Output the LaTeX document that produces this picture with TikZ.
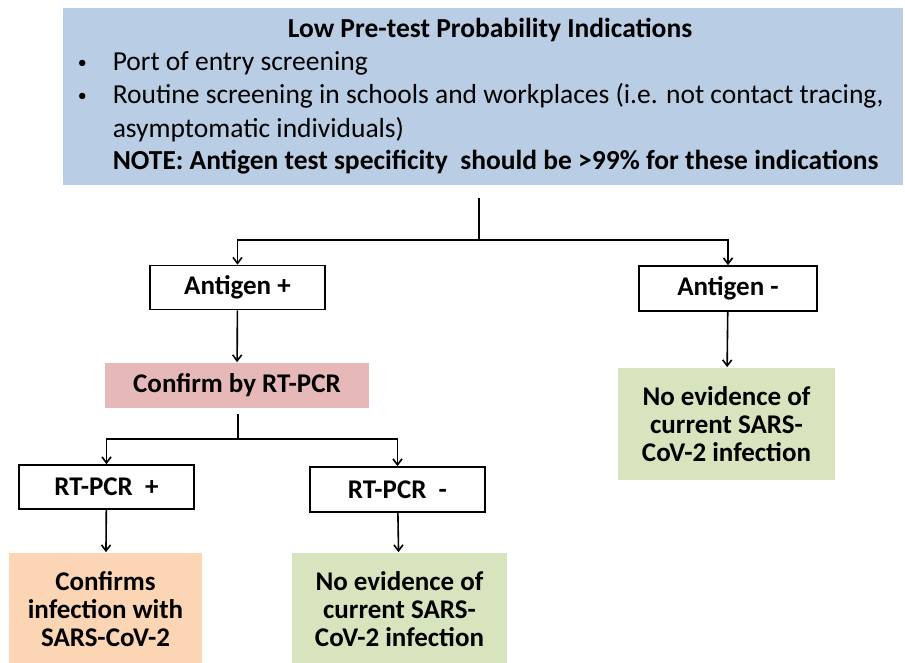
\documentclass[tikz,border=0pt]{standalone}
\usepackage{fontspec}
\setmainfont{Carlito}
\usetikzlibrary{arrows.meta}
\definecolor{topblue}{RGB}{185,205,229}
\definecolor{pcrpink}{RGB}{230,185,184}
\definecolor{pospeach}{RGB}{252,213,181}
\definecolor{neggreen}{RGB}{215,228,189}
\tikzstyle{topblock} = [rectangle, fill=topblue, minimum width=840pt, minimum height=177pt]
\tikzstyle{toptext} = [anchor=base west, inner sep=0pt, font=\fontsize{27.5}{30}\selectfont]
\tikzstyle{block} = [rectangle, draw, line width=1.6pt, text centered, minimum width=175pt, minimum height=44pt, font=\bfseries\fontsize{27}{28}\selectfont]
\tikzstyle{colorblock} = [rectangle, align=center, font=\bfseries\fontsize{27}{28}\selectfont]

\begin{document}
\begin{tikzpicture}[x=1pt, y=-1pt, line width=1.6pt, >={Straight Barb[length=6pt,width=9pt]}]
   \useasboundingbox (0,0) rectangle (905,662);
   % nodes
   \node[topblock] (a) at (483,96.5) {};
   \node[toptext, anchor=base] (a0) at (490,37) {\bfseries Low Pre-test Probability Indications};
   \node[toptext, font=\fontsize{18}{20}\selectfont] (a1) at (77,68) {\textbullet};
   \node[toptext] (a2) at (112,70) {Port of entry screening};
   \node[toptext, font=\fontsize{18}{20}\selectfont] (a3) at (77,101) {\textbullet};
   \node[toptext] (a4) at (112,103) {Routine screening in schools and workplaces (i.e. not contact tracing,};
   \node[toptext] (a5) at (112,137) {asymptomatic individuals)};
   \node[toptext] (a6) at (112,169) {\bfseries NOTE: Antigen test specificity\ \ should be >99\% for these indications};

   \node[block] (b) at (237.5,287.5) {Antigen +};
   \node[block, minimum width=178pt, minimum height=45pt] (c) at (728,288.5) {Antigen -};
   \node[colorblock, fill=pcrpink, minimum width=264pt, minimum height=45pt] (d) at (237,385.5) {Confirm by RT-PCR};
   \node[colorblock, fill=neggreen, minimum width=217pt, minimum height=112pt] (e) at (726.5,424) {No evidence of\\current SARS-\\CoV-2 infection};
   \node[block] (f) at (106.5,487) {RT-PCR\ \ +};
   \node[block, minimum height=45pt] (g) at (397.5,489.5) {RT-PCR\ \ -};
   \node[colorblock, fill=pospeach, minimum width=193pt, minimum height=112pt] (h) at (105.5,609) {Confirms\\infection with\\SARS-CoV-2};
   \node[colorblock, fill=neggreen, minimum width=215pt, minimum height=112pt] (i) at (399.5,609) {No evidence of\\current SARS-\\CoV-2 infection};
   \coordinate (s1) at (479,240);
   \coordinate (s2) at (238,439);

   % edges
   \draw ([yshift=-12pt]s1 |- a.south) -- (s1);
   \draw[->] (s1) -| (b.north);
   \draw[->] (s1) -| (c.north);
   \draw[->] (b) -- (d);
   \draw[->] (c) -- (e);
   \draw ([yshift=-5pt]s2 |- d.south) -- (s2);
   \draw[->] (s2) -| (f.north);
   \draw[->] (s2) -| (g.north);
   \draw[->] (f) -- (h);
   \draw[->] (g) -- (i);
\end{tikzpicture}
\end{document}
